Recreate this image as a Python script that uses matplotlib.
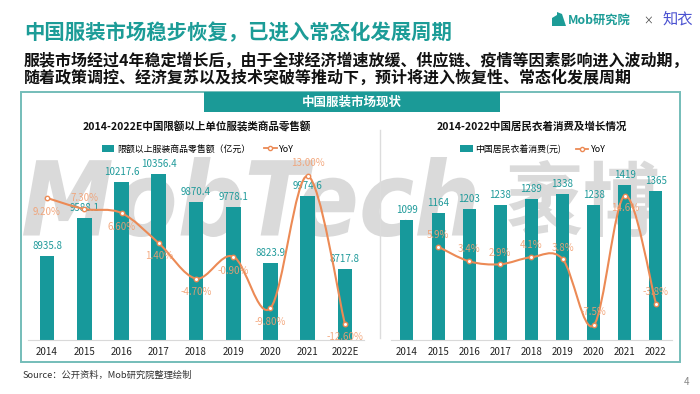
import numpy as np
import matplotlib
matplotlib.use("Agg")
import matplotlib.pyplot as plt
from matplotlib.path import Path
from matplotlib.patches import PathPatch, Rectangle, Patch, Polygon
from matplotlib.lines import Line2D
from matplotlib.textpath import TextPath
from matplotlib.font_manager import FontProperties
from matplotlib.transforms import Affine2D

plt.rcParams['font.family'] = ['Noto Sans CJK SC', 'DejaVu Sans']

# Data
years_left = ["2014", "2015", "2016", "2017", "2018", "2019", "2020", "2021", "2022E"]
retail_sales = [8935.8, 9588.1, 10217.6, 10356.4, 9870.4, 9778.1, 8823.9, 9974.6, 8717.8]
retail_yoy = [9.2, 7.3, 6.6, 1.4, -4.7, -0.9, -9.8, 13.0, -12.6]

years_right = ["2014", "2015", "2016", "2017", "2018", "2019", "2020", "2021", "2022"]
clothing_spend = [1099, 1164, 1203, 1238, 1289, 1338, 1238, 1419, 1365]
spend_yoy = [None, 5.9, 3.4, 2.9, 4.1, 3.8, -7.5, 14.6, -3.8]

# Label offsets for the YoY values (pixels, + is up)
left_yoy_dy = [-14, 11, -14, -13, -13, -14, -14, 13, -13]
right_yoy_dy = [0, 12, 12, 11, 12, 11, 13, -12, 12]

TEAL = "#17999b"
TITLE_TEAL = "#1c9c97"
ORANGE = "#ec8a55"
LABEL_ORANGE = "#f2a072"
W, H = 700, 394


def smooth_path(xs, ys):
    # Catmull-Rom style bezier through the points (like a spreadsheet "smooth line")
    pts = np.column_stack([xs, ys]).astype(float)
    n = len(pts)
    verts = [pts[0]]
    codes = [Path.MOVETO]
    for i in range(n - 1):
        p0 = pts[i - 1] if i > 0 else pts[i]
        p1, p2 = pts[i], pts[i + 1]
        p3 = pts[i + 2] if i + 2 < n else pts[i + 1]
        verts += [p1 + (p2 - p0) / 6, p2 - (p3 - p1) / 6, p2]
        codes += [Path.CURVE4] * 3
    return Path(verts, codes)


def stamp(ax, text, x0, x1, y_top, y_bottom, prop, color="#dadada"):
    tp = TextPath((0, 0), text, size=100, prop=prop)
    ext = tp.get_extents()
    tr = (Affine2D().translate(-ext.x0, -ext.y0)
          .scale((x1 - x0) / ext.width, -(y_bottom - y_top) / ext.height)
          .translate(x0, y_bottom))
    ax.add_patch(PathPatch(tr.transform_path(tp), fc=color, ec="none", zorder=0))


def fig_rect(left, right, top, bottom):
    return [left / W, 1 - bottom / H, (right - left) / W, (bottom - top) / H]


fig = plt.figure(figsize=(7, 3.94), dpi=100)
fig.patch.set_facecolor("white")

# background layer in pixel coordinates
bg = fig.add_axes([0, 0, 1, 1], zorder=0)
bg.set_xlim(0, W)
bg.set_ylim(H, 0)
bg.axis("off")

# watermark
stamp(bg, "MobTech", 23, 475, 157, 237,
      FontProperties(family="DejaVu Sans", weight="bold", style="oblique"))
stamp(bg, "袤博", 508, 658, 160, 237,
      FontProperties(family="Noto Sans CJK SC", weight="bold"))

# headings
bg.text(24, 33, "中国服装市场稳步恢复，已进入常态化发展周期", fontsize=14.7,
        weight="bold", color=TITLE_TEAL, va="center", ha="left")
bg.text(24, 61, "服装市场经过4年稳定增长后，由于全球经济增速放缓、供应链、疫情等因素影响进入波动期，",
        fontsize=11.5, weight="bold", color="#111111", va="center", ha="left")
bg.text(24, 78, "随着政策调控、经济复苏以及技术突破等推动下，预计将进入恢复性、常态化发展周期",
        fontsize=11.5, weight="bold", color="#111111", va="center", ha="left")

# logo
bg.add_patch(Polygon([[552, 26], [552, 18], [557, 15], [557, 12], [562, 14], [566, 26]],
                     closed=True, fc=TITLE_TEAL, ec="none"))
bg.text(568, 20, "Mob研究院", fontsize=8.8, weight="bold", color=TITLE_TEAL,
        va="center", ha="left", style="italic")
bg.text(648, 21, "×", fontsize=7, color="#444444", va="center", ha="center")
bg.text(662, 19, "知衣", fontsize=11, color="#4b52d1", va="center", ha="left")

# frame and tab
bg.add_patch(Rectangle((21, 92), 659, 270, fill=False, ec="#74bdb9", lw=1.4))
bg.add_patch(Rectangle((204, 92), 296, 20, fc="#1b9a97", ec="none"))
bg.text(352, 102, "中国服装市场现状", fontsize=9, weight="bold", color="white",
        va="center", ha="center")
bg.plot([380, 380], [130, 338], color="#dcdcdc", lw=1)

bg.text(197, 127, "2014-2022E中国限额以上单位服装类商品零售额", fontsize=7.6,
        weight="bold", color="#111111", va="center", ha="center")
bg.text(532, 127, "2014-2022中国居民衣着消费及增长情况", fontsize=7.6,
        weight="bold", color="#111111", va="center", ha="center")

bg.text(23, 375, "Source：公开资料，Mob研究院整理绘制", fontsize=6.7, color="#333333",
        va="center", ha="left")
bg.text(687, 382, "4", fontsize=7, color="#888888", va="center", ha="center")


def draw_panel(rect, years, values, yoy, yoy_dy, ylim, yoy_lim, bar_w, fmt, legend_x, bar_label):
    ax = fig.add_axes(rect, zorder=2)
    ax.patch.set_visible(False)
    x = np.arange(len(years))
    ax.bar(x, values, width=bar_w, color=TEAL, zorder=2)
    for xi, v in zip(x, values):
        ax.annotate(f"{v:g}" if isinstance(v, int) else f"{v:.1f}", (xi, v),
                    xytext=(0, 7.2), textcoords="offset points", ha="center",
                    va="center", fontsize=7, color="#1f9a9a")
    ax.set_xlim(-0.5, len(years) - 0.5)
    ax.set_ylim(*ylim)
    ax.set_xticks(x)
    ax.set_xticklabels(years, fontsize=7, color="#222222")
    ax.tick_params(axis="x", length=0, pad=5)
    ax.set_yticks([])
    for s in ["left", "right", "top"]:
        ax.spines[s].set_visible(False)
    ax.spines["bottom"].set_color("#d9d9d9")
    ax.spines["bottom"].set_linewidth(0.8)

    ax2 = ax.twinx()
    ax2.set_zorder(3)
    ax2.patch.set_visible(False)
    ax2.set_ylim(*yoy_lim)
    ax2.set_yticks([])
    for s in ax2.spines.values():
        s.set_visible(False)
    pts = [(xi, v) for xi, v in zip(x, yoy) if v is not None]
    px = [p[0] for p in pts]
    py = [p[1] for p in pts]
    ax2.add_patch(PathPatch(smooth_path(px, py), fill=False, ec=ORANGE, lw=1.5, zorder=3))
    ax2.plot(px, py, "o", ms=3.2, mfc="white", mec=ORANGE, mew=1, zorder=4)
    for xi, v in zip(x, yoy):
        if v is None:
            continue
        ax2.annotate(fmt(v), (xi, v), xytext=(0, yoy_dy[xi] * 0.72),
                     textcoords="offset points", ha="center", va="center",
                     fontsize=7, color=LABEL_ORANGE, alpha=0.9, zorder=5)

    handles = [Patch(facecolor=TEAL),
               Line2D([], [], color=ORANGE, lw=1.3, marker="o", ms=3, mfc="white", mec=ORANGE)]
    ax.legend(handles, [bar_label, "YoY"], loc="center",
              bbox_to_anchor=(legend_x / W, 1 - 149 / H), bbox_transform=fig.transFigure,
              ncol=2, frameon=False, fontsize=6.4, handlelength=1.4, handleheight=0.8,
              handletextpad=0.3, columnspacing=1.6)
    return ax


draw_panel(fig_rect(28.4, 363.6, 160, 340), years_left, retail_sales, retail_yoy,
           left_yoy_dy, (7498, 10590), (-15.3, 15.75), 0.40,
           lambda v: f"{v:.2f}%", 198, "限额以上服装商品零售额（亿元）")
draw_panel(fig_rect(391.4, 671.5, 160, 340), years_right, clothing_spend, spend_yoy,
           right_yoy_dy, (0, 1650), (-10.0, 20.66), 0.42,
           lambda v: f"{v:.1f}%", 533, "中国居民衣着消费(元)")

fig.savefig("out.png", dpi=100)
